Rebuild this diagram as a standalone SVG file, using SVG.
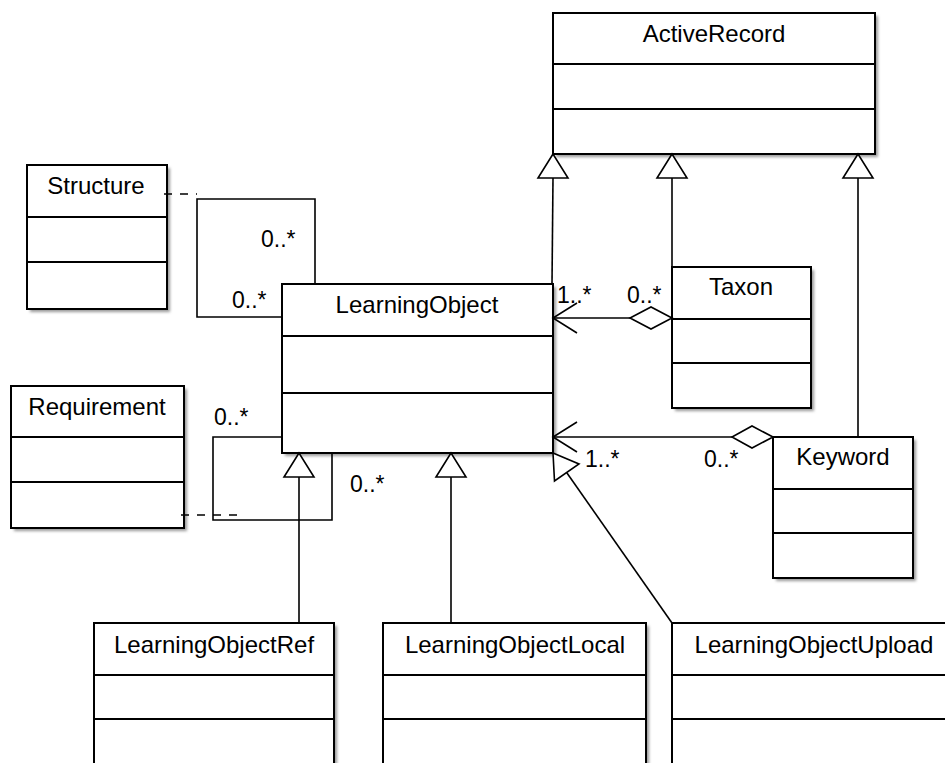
<svg xmlns="http://www.w3.org/2000/svg" width="945" height="763" viewBox="0 0 945 763">
<defs>
<filter id="sh" x="-10%" y="-10%" width="130%" height="130%">
<feGaussianBlur stdDeviation="1.5"/>
</filter>
<style>
.shadow{fill:#999;filter:url(#sh);}
.box{fill:#fff;stroke:#000;stroke-width:2;}
.div{stroke:#000;stroke-width:2;}
.name{font-family:"Liberation Sans",Arial,sans-serif;font-size:24px;text-anchor:middle;fill:#000;}
.lbl{font-family:"Liberation Sans",Arial,sans-serif;font-size:23px;fill:#000;}
.ln{fill:none;stroke:#000;stroke-width:1.6;}
.dash{fill:none;stroke:#000;stroke-width:1.6;stroke-dasharray:8,8;}
.tri{fill:#fff;stroke:#000;stroke-width:1.6;}
</style>
</defs>
<rect width="945" height="763" fill="#fff"/>

<g id="ActiveRecord">
<rect class="shadow" x="556" y="16" width="322" height="141"/>
<rect class="box" x="553" y="13" width="322" height="141"/>
<line class="div" x1="553" y1="64" x2="875" y2="64"/>
<line class="div" x1="553" y1="109" x2="875" y2="109"/>
<text class="name" x="714" y="42">ActiveRecord</text>
</g>

<g id="Structure">
<rect class="shadow" x="30" y="168" width="140" height="144"/>
<rect class="box" x="27" y="165" width="140" height="144"/>
<line class="div" x1="27" y1="217" x2="167" y2="217"/>
<line class="div" x1="27" y1="262" x2="167" y2="262"/>
<text class="name" x="96" y="194">Structure</text>
</g>

<g id="Requirement">
<rect class="shadow" x="14" y="389" width="173" height="142"/>
<rect class="box" x="11" y="386" width="173" height="142"/>
<line class="div" x1="11" y1="437" x2="184" y2="437"/>
<line class="div" x1="11" y1="482" x2="184" y2="482"/>
<text class="name" x="97" y="415">Requirement</text>
</g>

<g id="LearningObject">
<rect class="shadow" x="285" y="287" width="271" height="169"/>
<rect class="box" x="282" y="284" width="271" height="169"/>
<line class="div" x1="282" y1="336" x2="553" y2="336"/>
<line class="div" x1="282" y1="393" x2="553" y2="393"/>
<text class="name" x="417" y="313">LearningObject</text>
</g>

<g id="Taxon">
<rect class="shadow" x="675" y="270" width="139" height="141"/>
<rect class="box" x="672" y="267" width="139" height="141"/>
<line class="div" x1="672" y1="319" x2="811" y2="319"/>
<line class="div" x1="672" y1="363" x2="811" y2="363"/>
<text class="name" x="741" y="295">Taxon</text>
</g>

<g id="Keyword">
<rect class="shadow" x="776" y="440" width="140" height="141"/>
<rect class="box" x="773" y="437" width="140" height="141"/>
<line class="div" x1="773" y1="489" x2="913" y2="489"/>
<line class="div" x1="773" y1="533" x2="913" y2="533"/>
<text class="name" x="843" y="465">Keyword</text>
</g>

<g id="LearningObjectRef">
<rect class="shadow" x="97" y="626" width="240" height="160"/>
<rect class="box" x="94" y="623" width="240" height="160"/>
<line class="div" x1="94" y1="675" x2="334" y2="675"/>
<line class="div" x1="94" y1="719" x2="334" y2="719"/>
<text class="name" x="214" y="653">LearningObjectRef</text>
</g>

<g id="LearningObjectLocal">
<rect class="shadow" x="386" y="626" width="263" height="160"/>
<rect class="box" x="383" y="623" width="263" height="160"/>
<line class="div" x1="383" y1="675" x2="646" y2="675"/>
<line class="div" x1="383" y1="719" x2="646" y2="719"/>
<text class="name" x="515" y="653">LearningObjectLocal</text>
</g>

<g id="LearningObjectUpload">
<rect class="box" x="672" y="623" width="285" height="160"/>
<line class="div" x1="672" y1="675" x2="957" y2="675"/>
<line class="div" x1="672" y1="719" x2="957" y2="719"/>
<text class="name" x="814" y="653">LearningObjectUpload</text>
</g>

<g id="connectors">
<!-- generalizations to ActiveRecord -->
<line class="ln" x1="552" y1="284" x2="553" y2="178"/>
<polygon class="tri" points="553,154 538,178 568,178"/>
<line class="ln" x1="672" y1="267" x2="672" y2="178"/>
<polygon class="tri" points="672,154 657,178 687,178"/>
<line class="ln" x1="858" y1="437" x2="858" y2="178"/>
<polygon class="tri" points="858,154 843,178 873,178"/>

<!-- Taxon aggregation -->
<line class="ln" x1="553" y1="318" x2="630" y2="318"/>
<polygon class="tri" points="672,318 651,307 630,318 651,329"/>
<polyline class="ln" points="577,303 553,318 577,333"/>

<!-- Keyword aggregation -->
<line class="ln" x1="553" y1="437" x2="732" y2="437"/>
<polygon class="tri" points="773,437 752,426 732,437 752,448"/>
<polyline class="ln" points="577,422 553,437 577,452"/>

<!-- self association with Structure -->
<polyline class="ln" points="315,284 315,199 197,199 197,317 282,317"/>
<line class="dash" x1="164" y1="194" x2="197" y2="194"/>

<!-- self association with Requirement -->
<polyline class="ln" points="332,453 332,520 213,520 213,437 282,437"/>
<line class="dash" x1="181" y1="515" x2="237" y2="515"/>

<!-- generalizations to LearningObject -->
<line class="ln" x1="299" y1="477" x2="299" y2="623"/>
<polygon class="tri" points="299,453 284,477 314,477"/>
<line class="ln" x1="451" y1="477" x2="451" y2="623"/>
<polygon class="tri" points="451,453 436,477 466,477"/>
<line class="ln" x1="566.8" y1="472.7" x2="672" y2="623"/>
<polygon class="tri" points="553,453 579,464 554.5,481"/>

<!-- multiplicities -->
<text class="lbl" x="261" y="247">0..*</text>
<text class="lbl" x="232" y="308">0..*</text>
<text class="lbl" x="214" y="425">0..*</text>
<text class="lbl" x="350" y="492">0..*</text>
<text class="lbl" x="557" y="303">1..*</text>
<text class="lbl" x="627" y="303">0..*</text>
<text class="lbl" x="585" y="467">1..*</text>
<text class="lbl" x="704" y="467">0..*</text>
</g>
</svg>
